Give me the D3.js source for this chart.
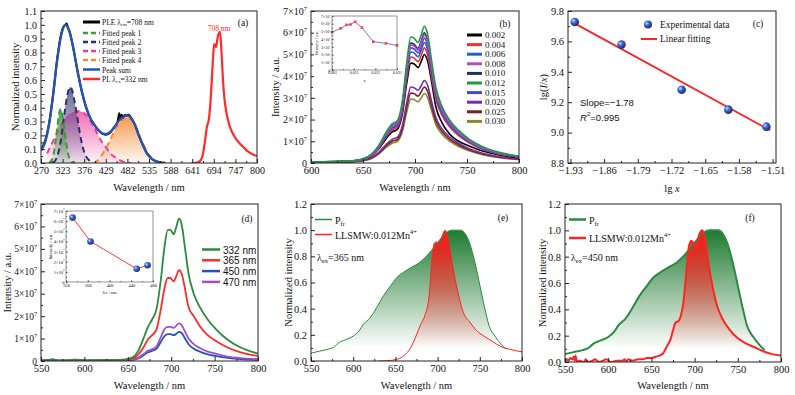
<!DOCTYPE html>
<html><head><meta charset="utf-8">
<script src="https://cdn.jsdelivr.net/npm/d3@7"></script>
<style>
body{margin:0;background:#fff}
</style></head><body>
<svg id="fig" width="795" height="395"></svg>
<script>
// ---------- data: panel (a) ----------
const A_PLE = [[270,0.1],[280,0.16],[290,0.29],[300,0.5],[310,0.76],[320,0.94],[326,0.99],[330,1.0],[333,1.01],[336,0.98],[340,0.95],[350,0.82],[360,0.66],[370,0.52],[380,0.41],[390,0.33],[400,0.28],[410,0.24],[420,0.215],[430,0.205],[440,0.22],[450,0.26],[458,0.3],[462,0.36],[465,0.32],[468,0.35],[472,0.33],[476,0.35],[480,0.34],[485,0.35],[490,0.33],[500,0.28],[510,0.2],[520,0.13],[530,0.07],[540,0.035],[550,0.015],[560,0.006],[575,0]];
const A_SUM = [[270,0.09],[280,0.15],[290,0.28],[300,0.5],[310,0.75],[320,0.93],[330,1.0],[340,0.95],[350,0.82],[360,0.66],[370,0.52],[380,0.41],[390,0.33],[400,0.28],[410,0.24],[420,0.215],[430,0.21],[440,0.225],[450,0.26],[460,0.3],[470,0.33],[480,0.345],[490,0.33],[500,0.28],[510,0.2],[520,0.13],[530,0.07],[540,0.035],[550,0.015],[560,0.006],[575,0]];
const A_PEAK1 = [[290,0],[296,0.02],[300,0.05],[305,0.14],[310,0.26],[314,0.35],[318,0.39],[322,0.36],[326,0.28],[330,0.19],[335,0.09],[340,0.03],[345,0.01],[350,0]];
const A_PEAK2 = [[300,0],[310,0.05],[318,0.15],[325,0.3],[332,0.45],[338,0.53],[342,0.55],[346,0.53],[352,0.45],[358,0.35],[365,0.22],[372,0.12],[380,0.05],[388,0.02],[395,0]];
const A_PEAK3 = [[285,0.07],[290,0.1],[300,0.16],[310,0.22],[320,0.28],[330,0.32],[340,0.35],[350,0.37],[360,0.375],[370,0.37],[380,0.35],[390,0.31],[400,0.26],[410,0.2],[420,0.15],[430,0.11],[440,0.07],[450,0.045],[460,0.025],[470,0.012],[480,0.005],[490,0]];
const A_PEAK4 = [[400,0],[410,0.02],[420,0.06],[430,0.11],[440,0.17],[450,0.23],[460,0.28],[470,0.315],[480,0.33],[490,0.32],[500,0.28],[510,0.21],[520,0.14],[530,0.08],[540,0.04],[550,0.015],[560,0]];
const A_PL = [[640,0],[655,0.005],[662,0.02],[667,0.06],[672,0.15],[677,0.26],[682,0.32],[686,0.45],[690,0.65],[693,0.8],[695,0.86],[697,0.85],[699,0.84],[701,0.86],[703,0.9],[705,0.93],[707,0.94],[709,0.95],[711,0.9],[713,0.8],[716,0.63],[719,0.5],[723,0.4],[728,0.32],[735,0.25],[745,0.19],[755,0.15],[765,0.12],[775,0.09],[785,0.07],[800,0.05]];
const A_XTICKS = [270,323,376,429,482,535,588,641,694,747,800];
const A_LEGEND = ["PLE", "Fitted peak 1", "Fitted peak 2", "Fitted peak 3", "Fitted peak 4", "Peak sum", "PL"];

// ---------- data: panel (b) ----------
const B_WL = [600,640,655,665,672,678,683,688,692,696,699,703,706,709,712,716,720,726,733,742,752,765,780,800];
const B_002 = [0.04,0.08,0.24,0.64,1.11,1.43,1.55,2.3,3.65,4.6,4.57,4.4,4.68,5.0,4.72,3.73,2.6,1.85,1.35,1.0,0.78,0.55,0.38,0.24];
const B_004 = [0.04,0.08,0.25,0.67,1.18,1.51,1.64,2.44,3.87,4.88,4.84,4.67,4.96,5.3,5.0,3.95,2.94,2.19,1.68,1.26,0.93,0.63,0.42,0.27];
const B_006 = [0.04,0.09,0.26,0.7,1.23,1.59,1.72,2.56,4.05,5.11,5.07,4.89,5.2,5.55,5.24,4.14,3.08,2.29,1.76,1.32,0.97,0.66,0.44,0.28];
const B_008 = [0.05,0.09,0.28,0.75,1.31,1.69,1.83,2.72,4.31,5.43,5.39,5.2,5.53,5.9,5.57,4.4,3.28,2.44,1.87,1.41,1.03,0.7,0.47,0.3];
const B_010 = [0.05,0.1,0.29,0.76,1.33,1.71,1.86,2.76,4.38,5.52,5.47,5.28,5.62,6.0,5.66,4.47,3.33,2.48,1.9,1.43,1.05,0.71,0.48,0.3];
const B_012 = [0.05,0.1,0.3,0.8,1.4,1.8,1.95,2.9,4.6,5.8,5.75,5.55,5.9,6.3,5.95,4.7,3.5,2.6,2.0,1.5,1.1,0.75,0.5,0.32];
const B_015 = [0.05,0.09,0.27,0.73,1.28,1.64,1.78,2.65,4.2,5.3,5.25,5.07,5.39,5.75,5.43,4.29,3.2,2.37,1.83,1.37,1.0,0.68,0.46,0.29];
const B_020 = [0.03,0.06,0.18,0.48,0.84,1.09,1.18,1.75,2.77,3.5,3.47,3.35,3.56,3.8,3.59,2.83,2.11,1.57,1.21,0.9,0.66,0.45,0.3,0.19];
const B_025 = [0.03,0.06,0.17,0.44,0.78,1.0,1.08,1.61,2.56,3.22,3.2,3.08,3.28,3.5,3.31,2.61,1.95,1.45,1.11,0.83,0.61,0.42,0.28,0.18];
const B_030 = [0.03,0.05,0.15,0.41,0.71,0.91,0.99,1.47,2.34,2.95,2.92,2.82,3.0,3.2,3.02,2.39,1.78,1.32,1.02,0.76,0.56,0.38,0.25,0.16];
const B_LABELS = ["0.002","0.004","0.006","0.008","0.010","0.012","0.015","0.020","0.025","0.030"];
const B_INSET_X = [0.001,0.005,0.0077,0.0095,0.0117,0.0148,0.0201,0.0259,0.031];
const B_INSET_I = [4.9,5.4,5.85,5.9,6.25,5.5,3.67,3.45,3.19];
const B_INSET_XTICKS = [0.001,0.011,0.021,0.031];

// ---------- data: panel (c) ----------
const C_LGX = [-1.921,-1.824,-1.699,-1.602,-1.523];
const C_LGIX = [9.728,9.579,9.282,9.151,9.039];
const C_FIT = [[-1.925,9.725],[-1.515,9.015]];
const C_XTICKS = [-1.93,-1.86,-1.79,-1.72,-1.65,-1.58,-1.51];
const C_YTICKS = [8.8,9.0,9.2,9.4,9.6,9.8];

// ---------- data: panel (d) ----------
const D_WL = [550,560,563,570,585,588,600,615,630,645,655,662,668,673,678,683,688,692,696,699,703,706,709,712,716,720,726,733,742,752,765,780,800];
const D_332 = [0.02,0.03,0.05,0.03,0.04,0.06,0.03,0.04,0.04,0.06,0.15,0.45,1.0,1.5,1.85,2.3,3.6,5.0,5.85,5.85,5.65,6.0,6.35,6.1,5.0,3.9,3.0,2.4,1.85,1.4,0.95,0.6,0.33];
const D_365 = [0.02,0.02,0.04,0.02,0.03,0.05,0.02,0.03,0.03,0.04,0.1,0.28,0.6,0.95,1.15,1.4,2.3,3.2,3.7,3.7,3.55,3.8,4.05,3.9,3.2,2.4,2.0,1.55,1.15,0.88,0.6,0.38,0.22];
const D_450 = [0.03,0.05,0.08,0.02,0.03,0.06,0.02,0.02,0.02,0.02,0.05,0.12,0.25,0.38,0.45,0.55,0.85,1.1,1.2,1.2,1.15,1.22,1.3,1.25,1.0,0.75,0.55,0.42,0.3,0.22,0.14,0.08,0.05];
const D_470 = [0.02,0.02,0.04,0.02,0.02,0.04,0.02,0.02,0.02,0.02,0.06,0.15,0.3,0.45,0.52,0.65,1.05,1.4,1.52,1.52,1.48,1.58,1.68,1.6,1.3,1.0,0.75,0.58,0.42,0.32,0.2,0.13,0.08];
const D_LABELS = ["332 nm","365 nm","450 nm","470 nm"];
const D_INSET_EX = [332,365,450,470];
const D_INSET_I = [6.35,4.0,1.3,1.65];
const D_INSET_XTICKS = [320,360,400,440,480];

// ---------- data: panels (e) and (f) ----------
const PFR = [[550,0.06],[560,0.075],[570,0.09],[578,0.11],[583,0.14],[590,0.16],[600,0.19],[607,0.23],[612,0.28],[620,0.33],[628,0.41],[636,0.5],[645,0.58],[652,0.64],[660,0.68],[670,0.72],[678,0.75],[688,0.81],[696,0.87],[703,0.93],[710,0.98],[717,1.0],[727,1.0],[733,0.97],[738,0.9],[744,0.76],[750,0.58],[756,0.4],[761,0.27],[768,0.19],[775,0.13],[781,0.09]];
const E_RED = [[630,0],[640,0.002],[650,0.01],[660,0.04],[668,0.1],[675,0.2],[680,0.28],[685,0.35],[690,0.5],[693,0.75],[696,0.9],[699,0.91],[702,0.9],[705,0.95],[709,1.0],[712,0.95],[716,0.8],[720,0.65],[725,0.5],[730,0.38],[738,0.3],[745,0.24],[755,0.19],[765,0.15],[775,0.11],[785,0.09],[800,0.07]];
const F_RED = [[550,0],[552,0.02],[554,0.01],[556,0.03],[558,0.02],[560,0.04],[561,0.01],[562,0.05],[564,0],[567,0.01],[572,0],[574,0.02],[576,0],[582,0.01],[585,0.02],[587,0.01],[590,0],[594,0.01],[598,0.02],[603,0],[610,0.01],[617,0.01],[619,0.02],[621,0],[623,0.02],[628,0.01],[635,0.02],[640,0.02],[645,0.03],[650,0.03],[655,0.04],[660,0.05],[664,0.07],[668,0.12],[672,0.17],[675,0.24],[678,0.3],[681,0.31],[684,0.35],[687,0.45],[690,0.65],[693,0.86],[696,0.92],[699,0.9],[702,0.88],[705,0.96],[709,1.0],[712,0.93],[716,0.75],[720,0.6],[725,0.45],[732,0.33],[740,0.25],[750,0.18],[760,0.14],[770,0.11],[780,0.08],[790,0.06],[800,0.05]];
const WL_TICKS = [550,600,650,700,750,800];

// ---------- drawing ----------
const SERIF = '"Liberation Serif","Times New Roman",serif';
const SANS = '"Liberation Sans",Arial,sans-serif';
const svg = d3.select('#fig');
const defs = svg.append('defs');
let clipN = 0;

function fade(id, color, top, bottom) {
  const lg = defs.append('linearGradient').attr('id', id)
    .attr('x1', 0).attr('y1', 0).attr('x2', 0).attr('y2', 1);
  lg.append('stop').attr('offset', '0%').attr('stop-color', color).attr('stop-opacity', top);
  lg.append('stop').attr('offset', '100%').attr('stop-color', color).attr('stop-opacity', bottom);
}
const ball = defs.append('radialGradient').attr('id', 'ball').attr('cx', '35%').attr('cy', '35%').attr('r', '65%');
ball.append('stop').attr('offset', '0%').attr('stop-color', '#c8d8ff');
ball.append('stop').attr('offset', '45%').attr('stop-color', '#3a62c8');
ball.append('stop').attr('offset', '100%').attr('stop-color', '#1a2f80');

function rich(g, x, y, parts, o = {}) {
  const fs = o.fs || 10;
  const t = g.append('text').attr('font-size', fs).attr('font-family', o.ff || SERIF)
    .attr('fill', o.fill || '#111').attr('text-anchor', o.anchor || 'start')
    .attr('dominant-baseline', 'central');
  if (o.rotate) t.attr('transform', `translate(${x},${y}) rotate(-90)`);
  else t.attr('x', x).attr('y', y);
  let off = 0;
  parts.forEach(p => {
    const [s, k, it] = Array.isArray(p) ? p : [p, null, false];
    const target = k === 'sub' ? fs * 0.3 : k === 'sup' ? -fs * 0.4 : 0;
    const sp = t.append('tspan').attr('dy', target - off).text(s);
    if (k) sp.attr('font-size', fs * 0.65);
    if (it) sp.attr('font-style', 'italic');
    off = target;
  });
  return t;
}

function panel(box, xd, yd) {
  const x = d3.scaleLinear().domain(xd).range([box.l, box.r]);
  const y = d3.scaleLinear().domain(yd).range([box.b, box.t]);
  const g = svg.append('g');
  const id = 'clip' + (clipN++);
  defs.append('clipPath').attr('id', id).append('rect')
    .attr('x', box.l).attr('y', box.t).attr('width', box.r - box.l).attr('height', box.b - box.t);
  const plot = g.append('g').attr('clip-path', `url(#${id})`);
  return { x, y, g, plot, box };
}

function sci(sel, fs) {
  sel.selectAll('.tick text').each(function (d) {
    const t = d3.select(this);
    t.text('');
    if (d === 0) { t.text('0'); return; }
    t.append('tspan').text(d + '×10');
    t.append('tspan').attr('dy', -fs * 0.4).attr('font-size', fs * 0.65).text('7');
  });
}

function mids(t) { const m = []; for (let i = 0; i < t.length - 1; i++) m.push((t[i] + t[i + 1]) / 2); return m; }

function frame(p, o) {
  const { x, y, g, box } = p;
  const fs = o.fs || 10.5, tk = o.tk || 4;
  const ax = g.append('g').attr('transform', `translate(0,${box.b})`)
    .call(d3.axisBottom(x).tickValues(o.xt).tickSizeInner(-tk).tickSizeOuter(0).tickPadding(o.pad || 4)
      .tickFormat(o.xf || (d => d)));
  ax.attr('font-family', o.ff || SERIF).attr('font-size', o.xfs || fs);
  g.append('g').attr('transform', `translate(0,${box.b})`)
    .call(d3.axisBottom(x).tickValues(mids(o.xt)).tickSizeInner(-tk / 2).tickSizeOuter(0).tickFormat(''));
  const ay = g.append('g').attr('transform', `translate(${box.l},0)`)
    .call(d3.axisLeft(y).tickValues(o.yt).tickSizeInner(-tk).tickSizeOuter(0).tickPadding(o.pad || 4)
      .tickFormat(o.yf || (d => d)));
  ay.attr('font-family', o.ff || SERIF).attr('font-size', fs);
  if (o.sci) sci(ay, fs);
  g.append('g').attr('transform', `translate(${box.l},0)`)
    .call(d3.axisLeft(y).tickValues(mids(o.yt)).tickSizeInner(-tk / 2).tickSizeOuter(0).tickFormat(''));
  g.selectAll('.domain').remove();
  g.selectAll('.tick line').attr('stroke', '#222');
  g.selectAll('.tick text').attr('fill', '#111');
  g.append('rect').attr('x', box.l).attr('y', box.t).attr('width', box.r - box.l)
    .attr('height', box.b - box.t).attr('fill', 'none').attr('stroke', o.bc || '#222').attr('stroke-width', o.sw || 1);
  if (o.xtitle) rich(g, (box.l + box.r) / 2, o.xty, o.xtitle, { fs: o.tfs || 10.5, anchor: 'middle' });
  if (o.ytitle) rich(g, o.ytx, (box.t + box.b) / 2, o.ytitle, { fs: o.tfs || 10.5, anchor: 'middle', rotate: true });
}

function line(p, data, color, w, dash) {
  const l = d3.line().x(d => p.x(d[0])).y(d => p.y(d[1])).curve(d3.curveMonotoneX);
  const path = p.plot.append('path').datum(data).attr('d', l).attr('fill', 'none')
    .attr('stroke', color).attr('stroke-width', w).attr('stroke-linejoin', 'round');
  if (dash) path.attr('stroke-dasharray', dash);
  return path;
}
function area(p, data, fill) {
  const a = d3.area().x(d => p.x(d[0])).y0(p.y.range()[0]).y1(d => p.y(d[1])).curve(d3.curveMonotoneX);
  return p.plot.append('path').datum(data).attr('d', a).attr('fill', fill);
}

// ===== (a) =====
const pa = panel({ l: 41, r: 257, t: 11, b: 163 }, [270, 800], [0, 1.1]);
fade('gA1', '#2f9a2f', 0.9, 0.1);
fade('gA2', '#505088', 0.85, 0.1);
fade('gA3', '#ee3c9c', 0.75, 0.05);
fade('gA4', '#f58a36', 0.85, 0.05);
area(pa, A_PEAK3, 'url(#gA3)');
area(pa, A_PEAK2, 'url(#gA2)');
area(pa, A_PEAK1, 'url(#gA1)');
area(pa, A_PEAK4, 'url(#gA4)');
const aCol = ['#000', '#34a034', '#2e2e6e', '#ee3c9c', '#f58a2a', '#2a52b0', '#ff2a2a'];
line(pa, A_PEAK3, aCol[3], 2, '6,4');
line(pa, A_PEAK2, aCol[2], 2, '6,4');
line(pa, A_PEAK1, aCol[1], 2, '6,4');
line(pa, A_PEAK4, aCol[4], 2, '6,4');
line(pa, A_PLE, aCol[0], 2);
line(pa, A_SUM, aCol[5], 2.4);
line(pa, A_PL, aCol[6], 2.2);
frame(pa, {
  xt: A_XTICKS, yt: d3.range(0, 12).map(i => i / 10), yf: d3.format('.1f'), fs: 10,
  xtitle: ['Wavelength / nm'], xty: 187, ytitle: ['Normalized intensity'], ytx: 15
});
const aLegY = [22, 33, 42, 51, 60, 69.5, 79];
A_LEGEND.forEach((lab, i) => {
  const ln = pa.g.append('line').attr('x1', 83).attr('x2', 100).attr('y1', aLegY[i]).attr('y2', aLegY[i])
    .attr('stroke', aCol[i]).attr('stroke-width', i === 0 ? 3 : 2.5);
  if (i >= 1 && i <= 4) ln.attr('stroke-dasharray', '5,3');
  let parts = [lab];
  if (i === 0) parts = ['PLE λ', ['em', 'sub'], '=708 nm'];
  if (i === 6) parts = ['PL λ', ['ex', 'sub'], '=332 nm'];
  rich(pa.g, 102, aLegY[i], parts, { fs: 7.5 });
});
rich(pa.g, 219, 28, ['708 nm'], { fs: 7.5, fill: '#ff2a2a', anchor: 'middle' });
rich(pa.g, 243, 23, ['(a)'], { fs: 9.5, anchor: 'middle' });

// ===== (b) =====
const pb = panel({ l: 311, r: 519, t: 11, b: 163 }, [600, 800], [0, 7]);
const bSeries = [B_002, B_004, B_006, B_008, B_010, B_012, B_015, B_020, B_025, B_030];
const bCol = ['#000000', '#ff2a2a', '#1f5fd0', '#b04fc8', '#2a2a60', '#1f9a3f', '#4646d0', '#7a2aa6', '#7a1f22', '#8a8a2a'];
[9, 8, 7, 0, 1, 2, 6, 4, 3, 5].forEach(i => {
  line(pb, B_WL.map((w, k) => [w, bSeries[i][k]]), bCol[i], 1.6);
});
frame(pb, {
  xt: [600, 650, 700, 750, 800], yt: d3.range(0, 8), sci: true, fs: 10, xfs: 10.5,
  xtitle: ['Wavelength / nm'], xty: 187, ytitle: ['Intensity / a.u.'], ytx: 275
});
B_LABELS.forEach((lab, i) => {
  const yy = 35 + i * 9.6;
  pb.g.append('line').attr('x1', 467).attr('x2', 482).attr('y1', yy).attr('y2', yy)
    .attr('stroke', bCol[i]).attr('stroke-width', 3);
  rich(pb.g, 485, yy, [lab], { fs: 9 });
});
rich(pb.g, 505, 24, ['(b)'], { fs: 9.5, anchor: 'middle' });
// inset (b)
svg.append('rect').attr('x', 314).attr('y', 13).attr('width', 86).attr('height', 70).attr('fill', '#fff');
const pbi = panel({ l: 332, r: 397, t: 16, b: 70 }, [0.001, 0.031], [0, 7]);
const bIn = B_INSET_X.map((v, i) => [v, B_INSET_I[i]]);
pbi.g.append('path').datum(bIn).attr('d', d3.line().x(d => pbi.x(d[0])).y(d => pbi.y(d[1])))
  .attr('fill', 'none').attr('stroke', '#5a6ad8').attr('stroke-width', 0.9);
pbi.g.selectAll('rect.m').data(bIn).join('rect').attr('class', 'm')
  .attr('x', d => pbi.x(d[0]) - 1.3).attr('y', d => pbi.y(d[1]) - 1.3).attr('width', 2.6).attr('height', 2.6)
  .attr('fill', '#ff4040');
frame(pbi, {
  xt: B_INSET_XTICKS, yt: d3.range(0, 8), sci: true, fs: 4, tk: 1.5, pad: 1.5, sw: 0.7, bc: '#666',
  xtitle: [['x', null, true]], xty: 80, ytitle: ['Intensity / a.u.'], ytx: 316, tfs: 4.2
});

// ===== (c) =====
const pc = panel({ l: 568, r: 776, t: 11, b: 163 }, [-1.935, -1.503], [8.8, 9.8]);
line(pc, C_FIT, '#ff2222', 1.8);
pc.g.selectAll('circle.pt').data(C_LGX.map((v, i) => [v, C_LGIX[i]])).join('circle').attr('class', 'pt')
  .attr('cx', d => pc.x(d[0])).attr('cy', d => pc.y(d[1])).attr('r', 4.3).attr('fill', 'url(#ball)');
frame(pc, {
  xt: C_XTICKS, yt: C_YTICKS, xf: d3.format('.2f'), yf: d3.format('.1f'),
  xtitle: ['lg ', ['x', null, true]], xty: 188,
  ytitle: ['lg(', ['I', null, true], '/', ['x', null, true], ')'], ytx: 543
});
pc.g.append('circle').attr('cx', 648).attr('cy', 24.5).attr('r', 4).attr('fill', 'url(#ball)');
rich(pc.g, 660, 24.5, ['Experimental data'], { fs: 9.5 });
pc.g.append('line').attr('x1', 641).attr('x2', 657).attr('y1', 39).attr('y2', 39).attr('stroke', '#ff2222').attr('stroke-width', 2);
rich(pc.g, 660, 39, ['Linear fitting'], { fs: 9.5 });
rich(pc.g, 758, 23.5, ['(c)'], { fs: 9.5, anchor: 'middle' });
rich(pc.g, 580, 102, ['Slope=−1.78'], { fs: 9.5, ff: SANS });
rich(pc.g, 580, 117, [['R', null, true], ['2', 'sup'], '=0.995'], { fs: 9.5, ff: SANS });

// ===== (d) =====
const pd = panel({ l: 41, r: 258, t: 204, b: 361 }, [550, 800], [0, 7]);
const dSeries = [D_332, D_365, D_450, D_470];
const dCol = ['#2a8a3e', '#ff2a2a', '#2850c0', '#a050c0'];
[2, 3, 1, 0].forEach(i => line(pd, D_WL.map((w, k) => [w, dSeries[i][k]]), dCol[i], 1.8));
frame(pd, {
  xt: WL_TICKS, yt: d3.range(0, 8), sci: true, fs: 9.5, xfs: 10.5,
  xtitle: ['Wavelength / nm'], xty: 385, ytitle: ['Intensity / a.u.'], ytx: 7
});
D_LABELS.forEach((lab, i) => {
  const yy = 249.5 + i * 10.8;
  pd.g.append('line').attr('x1', 202).attr('x2', 220).attr('y1', yy).attr('y2', yy)
    .attr('stroke', dCol[i]).attr('stroke-width', 2.5);
  rich(pd.g, 223, yy, [lab], { fs: 10, ff: SANS });
});
rich(pd.g, 247, 219, ['(d)'], { fs: 9.5, anchor: 'middle' });
// inset (d)
const pdi = panel({ l: 66, r: 153, t: 211, b: 282 }, [320, 480], [0, 7]);
const dIn = D_INSET_EX.map((v, i) => [v, D_INSET_I[i]]);
pdi.g.append('path').datum(dIn).attr('d', d3.line().x(d => pdi.x(d[0])).y(d => pdi.y(d[1])))
  .attr('fill', 'none').attr('stroke', '#ff3a3a').attr('stroke-width', 1);
pdi.g.selectAll('circle.pt').data(dIn).join('circle').attr('class', 'pt')
  .attr('cx', d => pdi.x(d[0])).attr('cy', d => pdi.y(d[1])).attr('r', 3.3).attr('fill', 'url(#ball)');
frame(pdi, {
  xt: D_INSET_XTICKS, yt: d3.range(0, 8), sci: true, fs: 4.5, tk: 1.5, pad: 1.5, sw: 0.7, bc: '#666',
  xtitle: ['λ', ['ex', 'sub'], ' / nm'], xty: 292, ytitle: ['Intensity / a.u.'], ytx: 50, tfs: 4.5
});

// ===== (e) and (f) =====
function emission(box, red, w, labY, redLegY, exLab, tag, tagX, ytx, k) {
  const p = panel(box, [550, 800], [0, 1.2]);
  const gg = defs.append('linearGradient').attr('id', 'ggE' + k).attr('gradientUnits', 'userSpaceOnUse')
    .attr('x1', 0).attr('x2', 0).attr('y1', p.y(1.0)).attr('y2', p.y(0.1));
  gg.append('stop').attr('offset', '0%').attr('stop-color', '#1f7a30').attr('stop-opacity', 1);
  gg.append('stop').attr('offset', '100%').attr('stop-color', '#1f7a30').attr('stop-opacity', 0);
  const rg = defs.append('linearGradient').attr('id', 'rgE' + k).attr('gradientUnits', 'userSpaceOnUse')
    .attr('x1', 0).attr('x2', 0).attr('y1', p.y(1.0)).attr('y2', p.y(0.1));
  rg.append('stop').attr('offset', '0%').attr('stop-color', '#ff1a1a').attr('stop-opacity', 1);
  rg.append('stop').attr('offset', '100%').attr('stop-color', '#ff1a1a').attr('stop-opacity', 0);
  area(p, PFR, `url(#ggE${k})`);
  area(p, red, `url(#rgE${k})`);
  line(p, PFR, '#2a8a45', w);
  line(p, red, '#ff2424', w);
  frame(p, {
    xt: WL_TICKS, yt: [0, 0.2, 0.4, 0.6, 0.8, 1.0, 1.2], yf: d3.format('.1f'),
    xtitle: ['Wavelength / nm'], xty: 385, ytitle: ['Normalized intensity'], ytx
  });
  const lx = box.l + 4;
  p.g.append('line').attr('x1', lx).attr('x2', lx + 17).attr('y1', labY).attr('y2', labY).attr('stroke', '#2a8a45').attr('stroke-width', w + 0.5);
  rich(p.g, lx + 20, labY, ['P', ['fr', 'sub']], { fs: 10 });
  p.g.append('line').attr('x1', lx).attr('x2', lx + 17).attr('y1', redLegY).attr('y2', redLegY).attr('stroke', '#ff2424').attr('stroke-width', w + 0.5);
  rich(p.g, lx + 20, redLegY, ['LLSMW:0.012Mn', ['4+', 'sup']], { fs: 10 });
  rich(p.g, lx + 2, 256.5, ['λ', ['ex', 'sub'], exLab], { fs: 10 });
  rich(p.g, tagX, 218, [tag], { fs: 9.5, anchor: 'middle' });
}
emission({ l: 311, r: 522, t: 204, b: 361 }, E_RED, 1, 219.5, 234.5, '=365 nm', '(e)', 503, 288, 0);
emission({ l: 565, r: 781, t: 204, b: 362 }, F_RED, 2, 219.5, 238, '=450 nm', '(f)', 750, 542, 1);
</script>
</body></html>
